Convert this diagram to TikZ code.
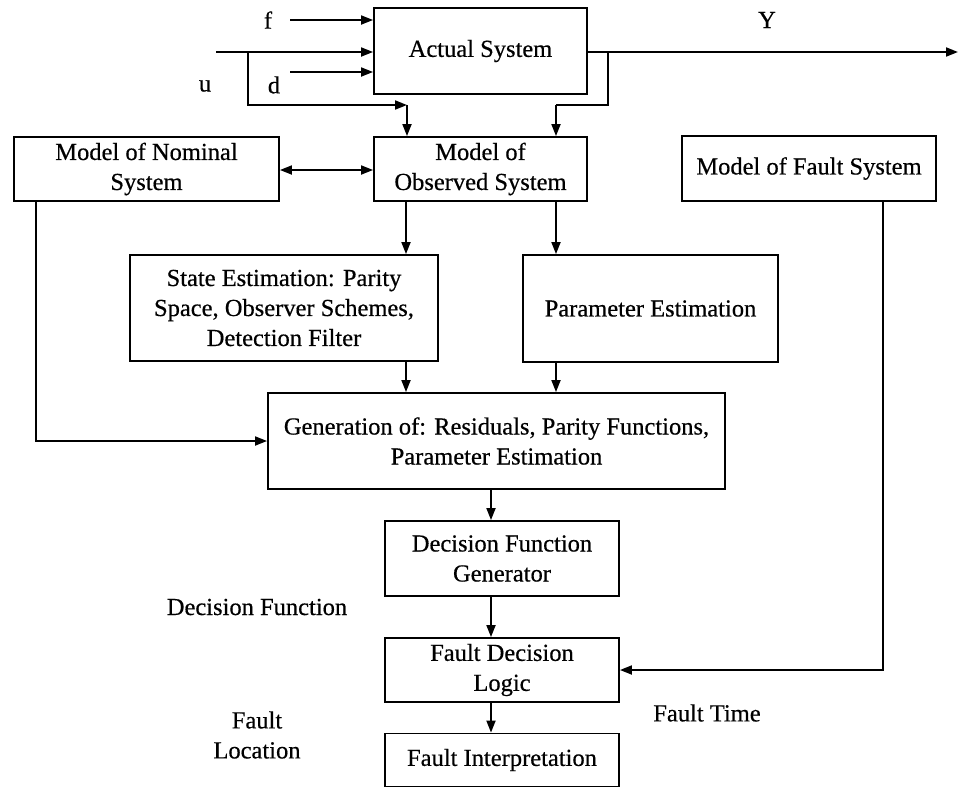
\documentclass[tikz,border=0pt]{standalone}
\usepackage{fontspec}
\setmainfont{Liberation Serif}
\newfontfamily\heavyserif{Liberation Serif}[FakeBold=0.5]
\usetikzlibrary{arrows.meta,calc}
\begin{document}
\begin{tikzpicture}[x=1pt,y=-1pt,
  box/.style={draw,line width=1.9pt,inner sep=0pt,align=center,font=\heavyserif\fontsize{24.5}{30}\selectfont},
  lbl/.style={inner sep=0pt,align=center,font=\heavyserif\fontsize{24.5}{30}\selectfont},
  conn/.style={line width=1.9pt},
  arr/.style={conn,-{Triangle[length=12pt,width=9pt]}},
  arrtwo/.style={conn,{Triangle[length=12pt,width=9pt]}-{Triangle[length=12pt,width=9pt]}}]
\useasboundingbox (0,0) rectangle (959,788);
% boxes
\node[box,minimum width=213pt,minimum height=86pt] (act) at (480.5,51) {Actual System};
\node[box,minimum width=213pt,minimum height=64pt] (obs) at (480.5,169) {Model of\\Observed System};
\node[box,minimum width=265pt,minimum height=64pt] (nom) at (146.5,169) {Model of Nominal\\System};
\node[box,minimum width=254pt,minimum height=65pt] (fs) at (809,168.5) {Model of Fault System};
\node[box,minimum width=308pt,minimum height=106pt] (st) at (284,308) {State Estimation: Parity\\Space, Observer Schemes,\\Detection Filter};
\node[box,minimum width=255pt,minimum height=107pt] (par) at (650.5,308.5) {Parameter Estimation};
\node[box,minimum width=457pt,minimum height=96pt] (gen) at (496.5,441) {Generation of: Residuals, Parity Functions,\\Parameter Estimation};
\node[box,minimum width=234pt,minimum height=75pt] (dfg) at (502,558.5) {Decision Function\\Generator};
\node[box,minimum width=234pt,minimum height=64pt] (fdl) at (502,670) {Fault Decision\\Logic};
\node[box,minimum width=234pt,minimum height=53pt] (fi) at (502,760) {Fault Interpretation};
% labels
\node[lbl] (lf) at (268,20) {f};
\node[lbl] (lu) at (205,86) {u};
\node[lbl] (ld) at (274,85) {d};
\node[lbl] (ly) at (767,20) {Y};
\node[lbl] (ldf) at (257,607) {Decision Function};
\node[lbl] (lfl) at (257,735) {Fault\\Location};
\node[lbl] (lft) at (707,713) {Fault Time};
% coordinates
\coordinate (fin) at (290,20);
\coordinate (uin) at (216,52);
\coordinate (din) at (290,72);
\coordinate (ub) at (248,52);
\coordinate (uc) at (407,105);
\coordinate (yend) at (958,52);
\coordinate (yb) at (608,52);
\coordinate (yc) at (556,105);
\coordinate (dl) at (0,170);
\coordinate (ca) at (406,0);
\coordinate (cb) at (556,0);
\coordinate (cc) at (491,0);
\coordinate (nl) at (36,441);
\coordinate (fl) at (883,670);
% connectors
\draw[arr] (fin) -- (fin -| act.west);
\draw[arr] (uin) -- (uin -| act.west);
\draw[arr] (din) -- (din -| act.west);
\draw[arr] (ub) |- (uc);
\draw[arr] (uc) -- (uc |- obs.north);
\draw[arr] (act.east |- yend) -- (yend);
\draw[conn] (yb) |- (yc);
\draw[arr] (yc) -- (yc |- obs.north);
\draw[arrtwo] (nom.east |- dl) -- (obs.west |- dl);
\draw[arr] (obs.south -| ca) -- (st.north -| ca);
\draw[arr] (obs.south -| cb) -- (par.north -| cb);
\draw[arr] (st.south -| ca) -- (gen.north -| ca);
\draw[arr] (par.south -| cb) -- (gen.north -| cb);
\draw[arr] (nom.south -| nl) |- (gen.west |- nl);
\draw[arr] (gen.south -| cc) -- (dfg.north -| cc);
\draw[arr] (dfg.south -| cc) -- (fdl.north -| cc);
\draw[arr] (fdl.south -| cc) -- (fi.north -| cc);
\draw[arr] (fs.south -| fl) |- (fdl.east |- fl);
\end{tikzpicture}
\end{document}
